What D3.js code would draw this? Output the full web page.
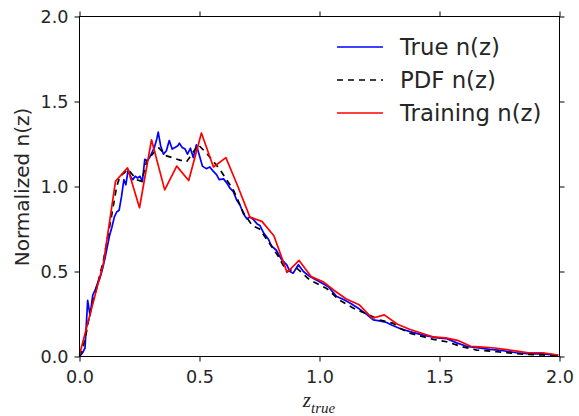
<!DOCTYPE html>
<html>
<head>
<meta charset="utf-8">
<script src="https://cdn.jsdelivr.net/npm/d3@7"></script>
<style>
  body { margin: 0; background: #fff; }
  svg { display: block; font-family: "DejaVu Sans", sans-serif; }
  .tick text { fill: #262626; }
</style>
</head>
<body>
<svg id="chart" width="579" height="416"></svg>
<script>
// true n(z)
var trueZ = [0.000,0.012,0.023,0.034,0.044,0.055,0.065,0.075,0.085,0.095,0.105,0.115,0.125,0.135,0.145,0.155,0.165,0.175,0.185,0.193,
  0.203,0.212,0.222,0.232,0.242,0.252,0.262,0.272,0.282,0.292,0.302,0.312,0.322,0.328,0.338,0.350,0.362,0.374,0.386,0.398,
  0.410,0.416,0.428,0.440,0.450,0.462,0.474,0.487,0.499,0.512,0.528,0.543,0.557,0.571,0.582,0.600,0.614,0.627,0.641,0.655,
  0.669,0.683,0.697,0.710,0.725,0.740,0.752,0.766,0.787,0.800,0.820,0.842,0.863,0.877,0.890,0.912,0.933,0.960,1.000,1.037,
  1.070,1.100,1.127,1.160,1.190,1.224,1.250,1.280,1.300,1.335,1.377,1.432,1.490,1.530,1.572,1.613,1.655,1.710,1.766,1.820,
  1.877,1.930,1.995];
var trueN = [0.00,0.02,0.05,0.33,0.24,0.36,0.39,0.43,0.46,0.51,0.57,0.64,0.71,0.76,0.82,0.85,0.86,0.94,1.04,1.01,
  1.10,1.06,1.04,1.06,1.05,1.06,1.03,1.16,1.15,1.17,1.20,1.23,1.28,1.32,1.24,1.19,1.21,1.27,1.22,1.23,
  1.24,1.255,1.23,1.22,1.19,1.225,1.17,1.245,1.185,1.12,1.105,1.115,1.09,1.07,1.04,1.045,1.02,0.99,0.97,0.92,
  0.89,0.84,0.81,0.82,0.805,0.78,0.77,0.73,0.69,0.65,0.625,0.57,0.54,0.50,0.49,0.54,0.50,0.47,0.44,0.41,
  0.355,0.335,0.315,0.285,0.255,0.215,0.21,0.20,0.185,0.165,0.146,0.126,0.11,0.105,0.08,0.06,0.052,0.042,0.034,0.022,
  0.015,0.015,0.007];

// stacked PDF n(z)
var pdfZ = [0.000,0.009,0.023,0.044,0.065,0.099,0.134,0.155,0.169,0.203,0.238,0.259,0.280,0.328,0.363,0.419,0.446,0.495,0.530,0.585,
  0.641,0.683,0.720,0.750,0.780,0.828,0.863,0.905,0.960,1.030,1.085,1.140,1.197,1.252,1.307,1.335,1.377,1.474,1.530,1.592,
  1.655,1.738,1.835,1.930,1.995];
var pdfN = [0.00,0.03,0.10,0.26,0.37,0.56,0.83,1.00,1.06,1.10,1.04,1.03,1.15,1.23,1.18,1.155,1.145,1.245,1.195,1.10,
  0.98,0.845,0.77,0.75,0.69,0.59,0.50,0.52,0.45,0.40,0.33,0.285,0.25,0.215,0.195,0.166,0.137,0.101,0.087,0.058,
  0.038,0.028,0.015,0.009,0.003];

// training set n(z)
var trainZ = [0.00,0.05,0.10,0.15,0.20,0.25,0.30,0.355,0.405,0.455,0.508,0.558,0.61,0.66,0.71,0.76,0.81,0.865,0.915,0.965,
  1.015,1.06,1.11,1.165,1.22,1.27,1.325,1.375,1.42,1.475,1.525,1.575,1.63,1.68,1.73,1.78,1.83,1.87,1.93,1.995];
var trainN = [0.01,0.28,0.55,1.03,1.11,0.875,1.275,0.98,1.12,1.035,1.315,1.115,1.17,1.00,0.82,0.795,0.71,0.495,0.565,0.47,
  0.44,0.39,0.34,0.305,0.225,0.245,0.19,0.16,0.14,0.115,0.11,0.095,0.06,0.055,0.05,0.04,0.03,0.022,0.022,0.009];

var xTicks = [0, 0.5, 1.0, 1.5, 2.0];
var yTicks = [0, 0.5, 1.0, 1.5, 2.0];

var svg = d3.select('#chart');
var pL = 79.5, pR = 559.5, pT = 16.5, pB = 356.5;

var x = d3.scaleLinear().domain([0, 2]).range([pL, pR]);
var y = d3.scaleLinear().domain([0, 2]).range([pB, pT]);

function zip(zs, ns) {
    return zs.map(function (z, i) { return [z, ns[i]]; });
}
var line = d3.line().x(function (d) { return x(d[0]); }).y(function (d) { return y(d[1]); });

var plot = svg.append('g');
plot.append('path').datum(zip(trueZ, trueN)).attr('d', line)
    .attr('fill', 'none').attr('stroke', '#0000ff').attr('stroke-width', 1.7).attr('stroke-linejoin', 'round');
plot.append('path').datum(zip(pdfZ, pdfN)).attr('d', line)
    .attr('fill', 'none').attr('stroke', '#000').attr('stroke-width', 1.7).attr('stroke-dasharray', '6,5');
plot.append('path').datum(zip(trainZ, trainN)).attr('d', line)
    .attr('fill', 'none').attr('stroke', '#ff0000').attr('stroke-width', 1.7).attr('stroke-linejoin', 'round');

// axes, ticks pointing out on all four sides
var fmt = d3.format('.1f');
var gx = svg.append('g').attr('transform', 'translate(0,' + pB + ')')
    .call(d3.axisBottom(x).tickValues(xTicks).tickFormat(fmt).tickSize(5).tickPadding(9));
var gy = svg.append('g').attr('transform', 'translate(' + pL + ',0)')
    .call(d3.axisLeft(y).tickValues(yTicks).tickFormat(fmt).tickSize(5).tickPadding(6));
var gt = svg.append('g').attr('transform', 'translate(0,' + pT + ')')
    .call(d3.axisTop(x).tickValues(xTicks).tickFormat('').tickSize(5));
var gr = svg.append('g').attr('transform', 'translate(' + pR + ',0)')
    .call(d3.axisRight(y).tickValues(yTicks).tickFormat('').tickSize(5));
[gx, gy, gt, gr].forEach(function (g) {
    g.select('.domain').remove();
    g.selectAll('.tick line').attr('stroke', '#000');
    g.selectAll('.tick text').attr('font-size', 17.6).attr('font-family', '"DejaVu Sans", sans-serif');
});

svg.append('rect').attr('x', pL).attr('y', pT)
    .attr('width', pR - pL).attr('height', pB - pT)
    .attr('fill', 'none').attr('stroke', '#000').attr('stroke-width', 1);

// axis labels
svg.append('text').attr('transform', 'translate(29,187) rotate(-90)')
    .attr('text-anchor', 'middle').attr('font-size', 20).attr('fill', '#262626')
    .text('Normalized n(z)');

var xl = svg.append('text').attr('x', 319).attr('y', 407)
    .attr('text-anchor', 'middle').attr('font-family', '"Liberation Serif", serif')
    .attr('font-style', 'italic').attr('fill', '#262626');
xl.append('tspan').attr('font-size', 21).text('z');
xl.append('tspan').attr('font-size', 15).attr('dy', 6).text('true');

// legend
var legendNames = ['True n(z)', 'PDF n(z)', 'Training n(z)'];
var legendColors = ['#0000ff', '#000', '#ff0000'];
var legendDash = [null, '6,5', null];
var lg = svg.append('g');
legendNames.forEach(function (name, i) {
    var ry = 47 + i * 33;
    lg.append('line').attr('x1', 337).attr('x2', 383).attr('y1', ry).attr('y2', ry)
        .attr('stroke', legendColors[i]).attr('stroke-width', 1.7)
        .attr('stroke-dasharray', legendDash[i]);
    lg.append('text').attr('x', 400).attr('y', ry + 8).attr('font-size', 22.8)
        .attr('fill', '#262626').text(name);
});
</script>
</body>
</html>
